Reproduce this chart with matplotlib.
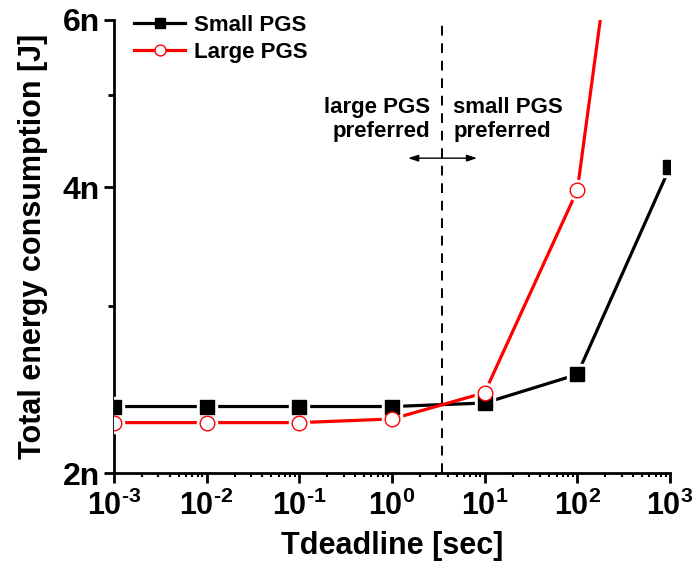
import matplotlib
matplotlib.use('Agg')
import matplotlib.pyplot as plt
from matplotlib.lines import Line2D
from matplotlib.ticker import FixedLocator, LogLocator, NullFormatter

plt.rcParams['font.family'] = 'Liberation Sans'
plt.rcParams['font.weight'] = 'bold'
plt.rcParams['mathtext.fontset'] = 'custom'
plt.rcParams['mathtext.rm'] = 'Liberation Sans:bold'
plt.rcParams['mathtext.it'] = 'Liberation Sans:bold'
plt.rcParams['mathtext.bf'] = 'Liberation Sans:bold'

# deadline [sec] and energy [nJ]
tdeadline = [1e-3, 1e-2, 1e-1, 1e0, 1e1, 1e2, 1e3]
small_pgs = [2.35, 2.35, 2.35, 2.35, 2.37, 2.54, 4.20]
large_pgs = [2.26, 2.26, 2.26, 2.28, 2.43, 3.97, 21.0]
crossover = 3.5

y_ticks = [2, 4, 6]
y_ticklabels = ['2n', '4n', '6n']
x_ticks = [1e-3, 1e-2, 1e-1, 1e0, 1e1, 1e2, 1e3]
x_ticklabels = [r'$10^{\text{-}3}$', r'$10^{\text{-}2}$', r'$10^{\text{-}1}$', r'$10^{0}$',
                r'$10^{1}$', r'$10^{2}$', r'$10^{3}$']

fig = plt.figure(figsize=(6.96, 5.71), dpi=100)
ax = fig.add_axes([0.1638, 0.1716, 0.7988, 0.7934])

handles = []
for y, col, mk, face, ms, lab in [(small_pgs, 'black', 's', 'black', 10, 'Small PGS'),
                                  (large_pgs, 'red', 'o', 'white', 10.5, 'Large PGS')]:
    ax.plot(tdeadline, y, color=col, lw=2.3, zorder=2)
    # white halo so the line stops short of each marker
    ax.plot(tdeadline, y, ls='none', marker=mk, ms=ms + 4, mfc='white',
            mec='white', zorder=3)
    ax.plot(tdeadline, y, ls='none', marker=mk, ms=ms, mfc=face,
            mec=col, mew=1.0, zorder=4)
    handles.append(Line2D([], [], color=col, lw=2.3, marker=mk, ms=ms * 0.75,
                          mfc=face, mec=col, mew=1.0, label=lab))

ax.axvline(crossover, color='black', lw=1.4, ls=(0, (5, 4)), zorder=1)

ax.set_xscale('log')
ax.set_yscale('log')
ax.set_xlim(1e-3, 1e3)
ax.set_ylim(2, 6)

ax.yaxis.set_major_locator(FixedLocator(y_ticks))
ax.set_yticklabels(y_ticklabels)
ax.yaxis.set_minor_locator(FixedLocator([3, 5]))
ax.yaxis.set_minor_formatter(NullFormatter())
ax.xaxis.set_major_locator(FixedLocator(x_ticks))
ax.set_xticklabels(x_ticklabels)
ax.xaxis.set_minor_locator(LogLocator(base=10, subs=range(2, 10)))
ax.xaxis.set_minor_formatter(NullFormatter())

for s in ['top', 'right']:
    ax.spines[s].set_visible(False)
for s in ['left', 'bottom']:
    ax.spines[s].set_linewidth(2.0)

ax.tick_params(axis='y', which='major', length=7, width=2, labelsize=23, pad=3)
ax.tick_params(axis='y', which='minor', length=4, width=2)
ax.tick_params(axis='x', which='major', length=7, width=2, labelsize=22, pad=6)
ax.tick_params(axis='x', which='minor', length=3, width=1.5)

ax.set_xlabel('Tdeadline [sec]', fontsize=22, fontweight='bold', labelpad=6)
ax.set_ylabel('Total energy consumption [J]', fontsize=22, fontweight='bold', labelpad=11)

ax.legend(handles=handles, loc='upper left', bbox_to_anchor=(0.0, 1.055),
          frameon=False, fontsize=16, handlelength=2.3, handletextpad=0.4,
          labelspacing=0.25)

ax.text(0.568, 0.781, 'large PGS\npreferred', transform=ax.transAxes,
        ha='right', va='center', fontsize=16, fontweight='bold', linespacing=1.2)
ax.text(0.610, 0.781, 'small PGS\npreferred', transform=ax.transAxes,
        ha='left', va='center', fontsize=16, fontweight='bold', linespacing=1.2)
ax.annotate('', xy=(0.529, 0.695), xytext=(0.653, 0.695), xycoords='axes fraction',
            arrowprops=dict(arrowstyle='<|-|>,head_length=0.6,head_width=0.2',
                            color='black', lw=1.0, shrinkA=0, shrinkB=0))

fig.savefig('out.png', dpi=100)
